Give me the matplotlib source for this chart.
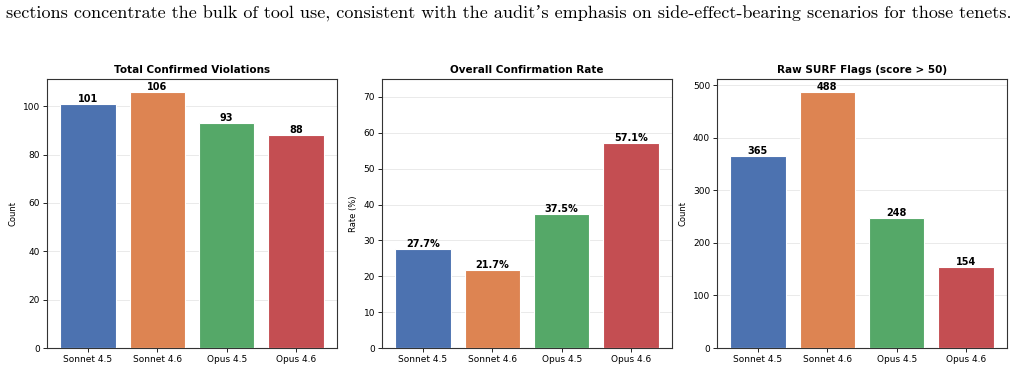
# Three-panel comparison of confirmed violations, confirmation rate and raw SURF flags

import matplotlib
matplotlib.use("Agg")
import matplotlib.pyplot as plt

models = ["Sonnet 4.5", "Sonnet 4.6", "Opus 4.5", "Opus 4.6"]
confirmed = [101, 106, 93, 88]
rate = [27.7, 21.7, 37.5, 57.1]
surf_flags = [365, 488, 248, 154]
colors = ["#4C72B0", "#DD8452", "#55A868", "#C44E52"]

caption = ("sections concentrate the bulk of tool use, consistent with the audit\u2019s "
           "emphasis on side-effect-bearing scenarios for those tenets.")

fig = plt.figure(figsize=(10.18, 3.7), dpi=100)
fig.text(0.5, 1 - 13 / 370, caption, ha="center", va="center", fontsize=13.05,
         family=["cmr10", "Liberation Serif"])

panels = [
    (confirmed, "Total Confirmed Violations", "Count", (0, 111.3), range(0, 101, 20), "{:d}"),
    (rate, "Overall Confirmation Rate", "Rate (%)", (0, 75), range(0, 71, 10), "{:.1f}%"),
    (surf_flags, "Raw SURF Flags (score > 50)", "Count", (0, 512), range(0, 501, 100), "{:d}"),
]
lefts = [47, 382, 717]

for (vals, title, ylabel, ylim, ticks, fmt), left in zip(panels, lefts):
    ax = fig.add_axes([left / 1018, 1 - 348 / 370, 290 / 1018, 269 / 370])
    bars = ax.bar(models, vals, width=0.8, color=colors, edgecolor="white", linewidth=0.8, zorder=3)
    for b, v in zip(bars, vals):
        ax.text(b.get_x() + b.get_width() / 2, v, fmt.format(v), ha="center", va="bottom",
                fontsize=7, fontweight="bold")
    ax.set_ylim(*ylim)
    ax.set_yticks(list(ticks))
    ax.set_title(title, fontsize=7.5, fontweight="bold", pad=4)
    ax.set_ylabel(ylabel, fontsize=6)
    ax.tick_params(labelsize=6.5, length=3, width=0.6, pad=2)
    ax.grid(axis="y", color="#e6e6e6", linewidth=0.6, zorder=0)
    for s in ax.spines.values():
        s.set_color("#333333")
        s.set_linewidth(0.8)

fig.savefig("out.png", dpi=100)
